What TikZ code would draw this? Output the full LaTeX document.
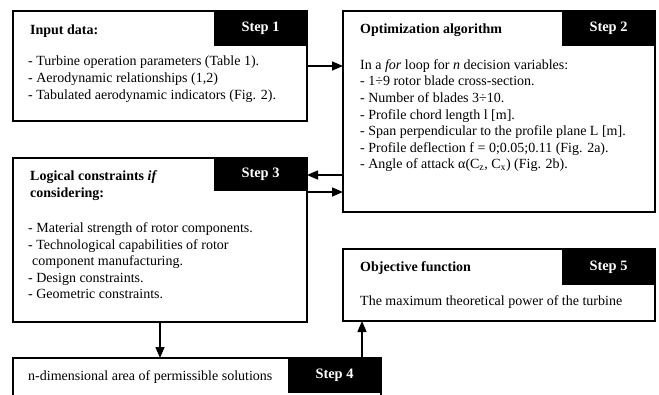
\documentclass[tikz,border=0pt]{standalone}
\usepackage{fontspec}
\setmainfont{Liberation Serif}
\usetikzlibrary{arrows.meta}
\begin{document}
\begin{tikzpicture}[x=1pt,y=-1pt,
  frame/.style={draw=black,line width=1.6pt,fill=white,inner sep=0pt,outer sep=0pt},
  stepbox/.style={fill=black,text=white,inner sep=0pt,outer sep=0pt,
    font=\fontsize{14.4}{16.6}\selectfont\bfseries,minimum width=93pt,anchor=north east},
  txt/.style={font=\fontsize{14}{16.6}\selectfont,inner sep=0pt,align=left,anchor=north west},
  head/.style={font=\fontsize{14}{16.6}\selectfont\bfseries,inner sep=0pt,align=left,anchor=base west},
  arr/.style={line width=1.5pt,-{Triangle[length=11pt,width=9pt]}}]
\useasboundingbox[fill=white] (0,0) rectangle (659,394);

% boxes
\node[frame,minimum width=294pt,minimum height=110pt] (b1) at (160,66) {};
\node[frame,minimum width=312pt,minimum height=201pt] (b2) at (499,111.5) {};
\node[frame,minimum width=294pt,minimum height=164pt] (b3) at (160,240) {};
\node[frame,minimum width=368pt,minimum height=40pt] (b4) at (197,378) {};
\node[frame,minimum width=312pt,minimum height=72pt] (b5) at (499,285) {};

% step labels
\node[stepbox,minimum height=35pt] (s1) at (b1.north east) {Step 1};
\node[stepbox,minimum height=35pt] (s2) at (b2.north east) {Step 2};
\node[stepbox,minimum height=33pt] (s3) at (b3.north east) {Step 3};
\node[stepbox,minimum height=35pt] (s4) at (b4.north east) {Step 4};
\node[stepbox,minimum height=36pt] (s5) at (b5.north east) {Step 5};

% box 1
\node[head] (h1) at (30,34) {Input data:};
\node[txt] (t1) at (28,54.1) {\strut- Turbine operation parameters (Table 1).\\
- Aerodynamic relationships (1,2)\\
- Tabulated aerodynamic indicators (Fig. 2).};

% box 2
\node[head] (h2) at (360,33) {Optimization algorithm};
\node[txt] (t2) at (360,57.4) {\strut In a \textit{for} loop for \textit{n} decision variables:\\
- 1÷9 rotor blade cross-section.\\
- Number of blades 3÷10.\\
- Profile chord length l [m].\\
- Span perpendicular to the profile plane L [m].\\
- Profile deflection f = 0;0.05;0.11 (Fig. 2a).\\
- Angle of attack α(C\textsubscript{z}, C\textsubscript{x}) (Fig. 2b).};

% box 3
\node[txt,font=\fontsize{14}{16.6}\selectfont\bfseries] (h3) at (30,169.1) {\strut Logical constraints \textit{if}\\ considering:};
\node[txt] (t3) at (28,220.7) {\strut- Material strength of rotor components.\\
- Technological capabilities of rotor\\
\hspace*{4pt}component manufacturing.\\
- Design constraints.\\
- Geometric constraints.};

% box 4
\node[txt,anchor=base west] (t4) at (28,380) {n-dimensional area of permissible solutions};

% box 5
\node[head] (h5) at (360,271.3) {Objective function};
\node[txt,anchor=base west] (t5) at (360,305.7) {The maximum theoretical power of the turbine};

% connectors
\coordinate (ya) at (0,66);
\coordinate (yb) at (0,175);
\coordinate (yc) at (0,192);
\coordinate (xd) at (362,0);
\draw[arr] (b1.east |- ya) -- (b2.west |- ya);
\draw[arr] (b2.west |- yb) -- (b3.east |- yb);
\draw[arr] (b3.east |- yc) -- (b2.west |- yc);
\draw[arr] (b3.south) -- (b3.south |- b4.north);
\draw[arr] (xd |- b4.north) -- (xd |- b5.south);
\end{tikzpicture}
\end{document}
